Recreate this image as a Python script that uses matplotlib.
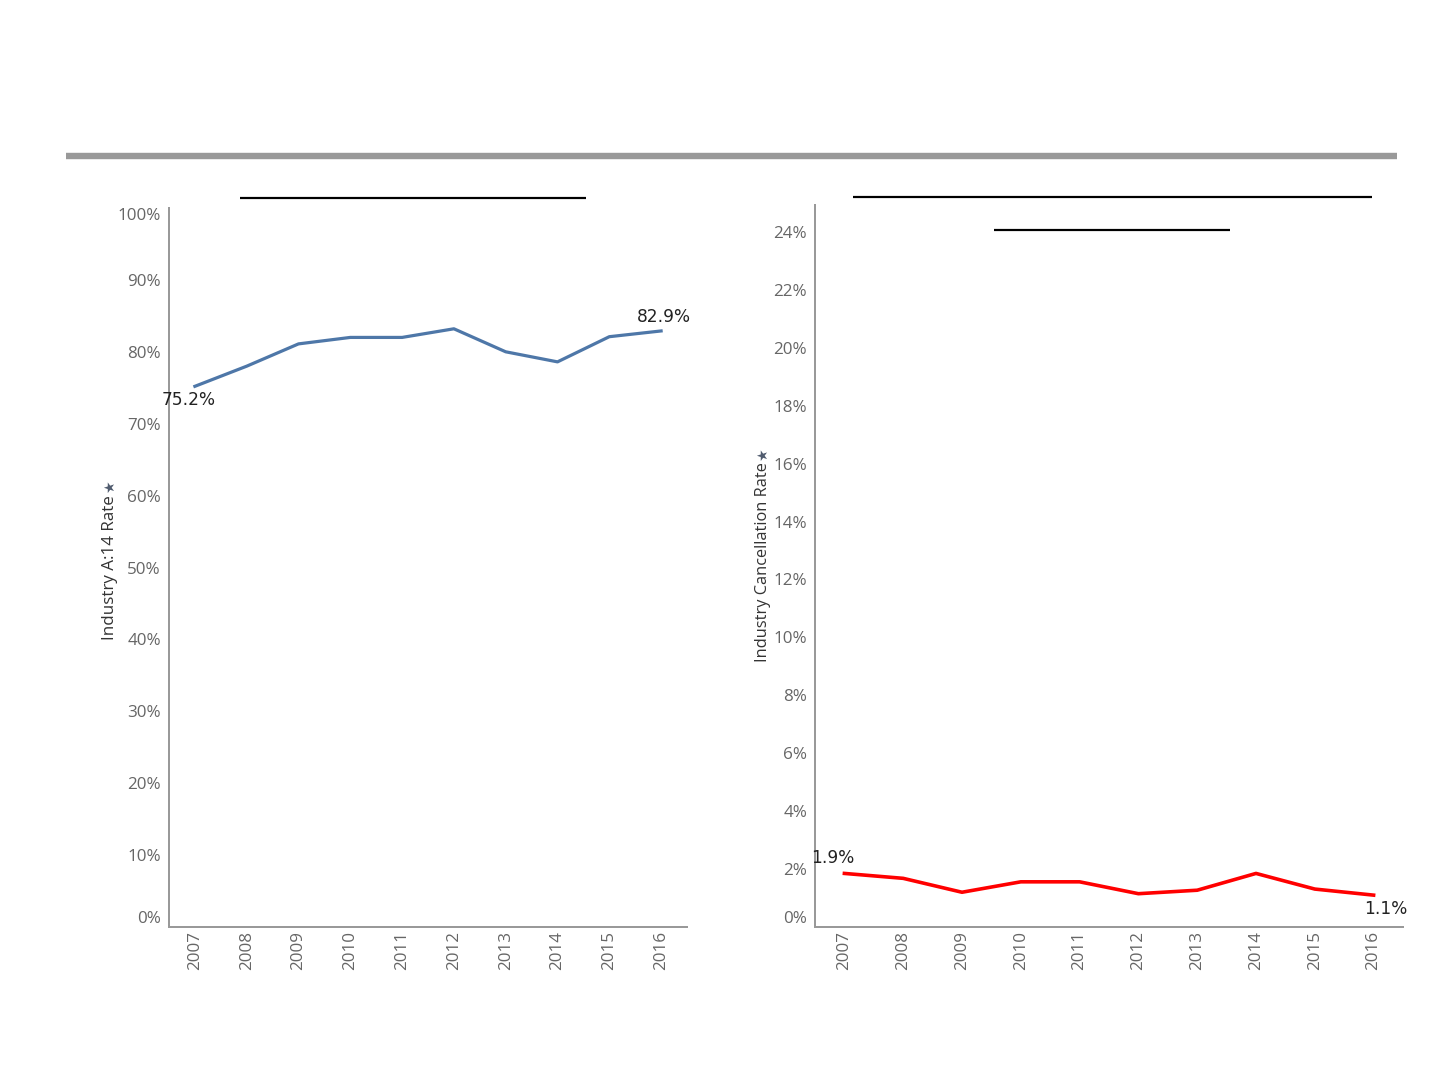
import matplotlib.pyplot as plt
from matplotlib.lines import Line2D

years = ["2007", "2008", "2009", "2010", "2011", "2012", "2013", "2014", "2015", "2016"]
a14_rate = [75.2, 78.0, 81.1, 82.0, 82.0, 83.2, 80.0, 78.6, 82.1, 82.9]
cancel_rate = [1.85, 1.68, 1.2, 1.56, 1.56, 1.15, 1.27, 1.85, 1.31, 1.1]

a14_ticks = list(range(0, 101, 10))
cancel_ticks = list(range(0, 25, 2))

plt.rcParams['font.family'] = ['Open Sans', 'DejaVu Sans']

fig = plt.figure(figsize=(10, 7.5), dpi=144)
W, H = 1440.0, 1080.0


def px_axes(x0, y0, x1, y1):
    return fig.add_axes([x0 / W, 1 - y1 / H, (x1 - x0) / W, (y1 - y0) / H])


def hline(x0, x1, y, lw, color):
    fig.add_artist(Line2D([x0 / W, x1 / W], [1 - y / H, 1 - y / H],
                          lw=lw, color=color, solid_capstyle="butt",
                          transform=fig.transFigure))


def style(ax, ticks, top):
    x = range(len(years))
    ax.set_xlim(-0.5, len(years) - 0.5)
    ax.set_ylim(0, top)
    ax.set_xticks(list(x))
    ax.set_xticklabels(years, rotation=90, fontsize=8.5, color="#666666")
    ax.set_yticks(ticks)
    ax.set_yticklabels(["%d%%" % t for t in ticks], fontsize=8.5, color="#666666")
    ax.tick_params(axis="y", length=0, pad=4)
    ax.tick_params(axis="x", length=0, pad=2)
    for s in ["top", "right"]:
        ax.spines[s].set_visible(False)
    for s in ["left", "bottom"]:
        ax.spines[s].set_color("#999999")
        ax.spines[s].set_linewidth(1)
    labs = ax.get_yticklabels()
    labs[0].set_va("bottom")
    if ticks[-1] == top:
        labs[-1].set_va("top")


# left chart
ax1 = px_axes(169, 208, 687, 927)
style(ax1, a14_ticks, 100)
ax1.plot(range(len(years)), a14_rate, color="#4e77a8", lw=1.6)
ax1.annotate("%.1f%%" % a14_rate[0], (0, a14_rate[0]), xytext=(-3, -7),
             textcoords="offset points", ha="center", va="center", fontsize=8.5,
             family="DejaVu Sans", color="#222222", annotation_clip=False)
ax1.annotate("%.1f%%" % a14_rate[-1], (9, a14_rate[-1]), xytext=(1.5, 7),
             textcoords="offset points", ha="center", va="center", fontsize=8.5,
             family="DejaVu Sans", color="#222222", annotation_clip=False)
fig.text(110 / W, 1 - 568 / H, "Industry A:14 Rate", rotation=90,
         ha="center", va="center", fontsize=8.5, color="#333333")
fig.text(110 / W, 1 - 487 / H, "\u2605", rotation=90, ha="center",
         va="center", fontsize=7, color="#4f5b6e", family="DejaVu Sans")

# right chart
ax2 = px_axes(815, 205, 1403, 927)
style(ax2, cancel_ticks, 24.93)
ax2.plot(range(len(years)), cancel_rate, color="#ff0000", lw=1.8)
ax2.annotate("1.9%", (0, cancel_rate[0]), xytext=(-6, 7.5),
             textcoords="offset points", ha="center", va="center", fontsize=8.5,
             family="DejaVu Sans", color="#222222", annotation_clip=False)
ax2.annotate("1.1%", (9, cancel_rate[-1]), xytext=(6, -7),
             textcoords="offset points", ha="center", va="center", fontsize=8.5,
             family="DejaVu Sans", color="#222222", annotation_clip=False)
fig.text(763 / W, 1 - 562 / H, "Industry Cancellation Rate", rotation=90,
         ha="center", va="center", fontsize=8.2, color="#333333")
fig.text(763 / W, 1 - 455 / H, "\u2605", rotation=90, ha="center",
         va="center", fontsize=7, color="#4f5b6e", family="DejaVu Sans")

# header rule and title underlines
hline(66, 1397, 156, 3.2, "#999999")
hline(240, 586, 198, 1.1, "black")
hline(853, 1372, 197, 1.1, "black")
hline(994, 1230, 230, 1.1, "black")

fig.savefig("out.png", dpi=144, facecolor="white")
